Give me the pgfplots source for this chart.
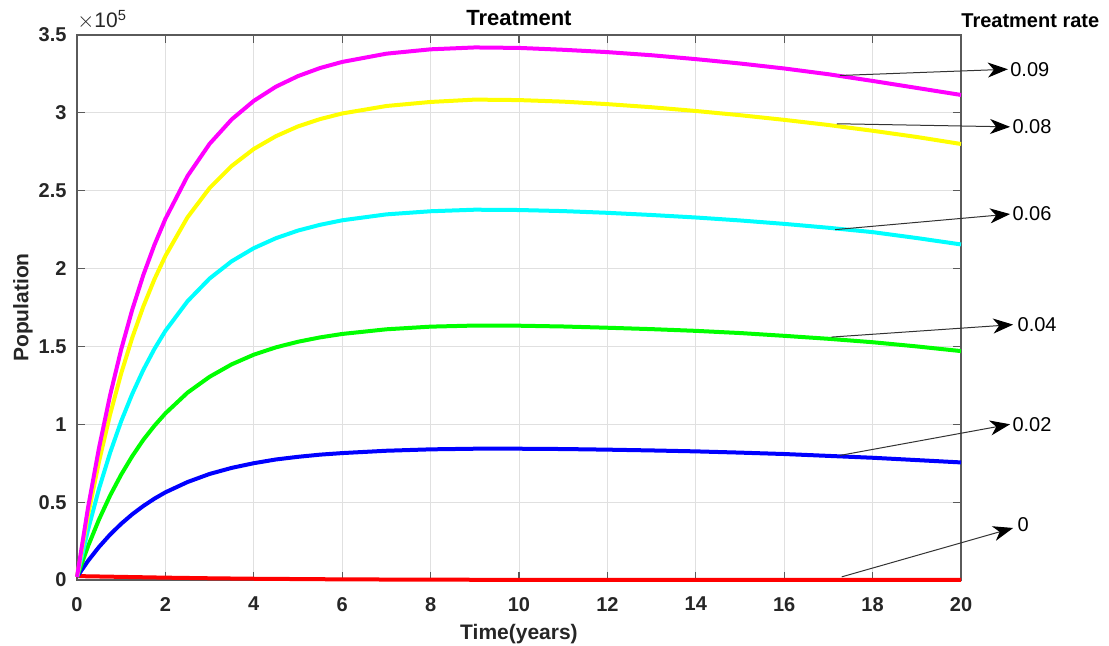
\documentclass[border=0pt]{standalone}
\usepackage{pgfplots}
\pgfplotsset{compat=1.18}
\usepackage{fontspec}
\setmainfont{Liberation Sans}
\usetikzlibrary{arrows.meta}
\definecolor{cmag}{RGB}{255,0,255}
\definecolor{cyel}{RGB}{255,255,0}
\definecolor{ccya}{RGB}{0,255,255}
\definecolor{cgre}{RGB}{0,255,0}
\definecolor{cblu}{RGB}{0,0,255}
\definecolor{cred}{RGB}{255,0,0}
\definecolor{axgray}{RGB}{90,90,90}
\begin{document}
\begin{tikzpicture}
\begin{axis}[
  at={(0pt,0pt)}, anchor=south west,
  scale only axis, width=442pt, height=272.5pt,
  xmin=0, xmax=20, ymin=0, ymax=3.5,
  xtick={0,2,...,20}, ytick={0,0.5,...,3.5},
  clip=false,
  axis line style={draw=axgray, line width=0.6pt},
  tick style={draw=axgray, line width=0.6pt},
  major tick length=4pt,
  tick align=inside,
  grid=major,
  grid style={draw=black!12, line width=0.5pt},
  /pgf/number format/assume math mode=true,
  ticklabel style={font=\fontsize{10}{12}\selectfont\bfseries, text=black!85},
  xticklabel style={yshift=-5pt},
  yticklabel style={xshift=-1.7pt},
  xlabel={Time(years)},
  ylabel={Population},
  label style={font=\fontsize{10.5}{12}\selectfont\bfseries, text=black!85},
  xlabel style={at={(axis description cs:0.5,0)}, anchor=north, yshift=-18.5pt},
  ylabel style={at={(axis description cs:-0.042,0.5)}, anchor=south, rotate=0},
  every axis plot/.append style={line width=2pt, line join=round},
]
\addplot[cred] coordinates {
(0,0.025) (1,0.02) (2,0.015) (3,0.011) (4,0.008) (5,0.006) (6,0.004) (8,0.002) (10,0.001) (12,0.0005) (16,0.0002) (20,0.0001)};
\addplot[cblu] coordinates {
(0,0.02) (0.25,0.123) (0.5,0.213) (0.75,0.292) (1,0.361) (1.25,0.422) (1.5,0.475) (1.75,0.522) (2,0.563) (2.5,0.629) (3,0.681) (3.5,0.72) (4,0.75) (4.5,0.774) (5,0.791) (5.5,0.805) (6,0.815) (7,0.83) (8,0.839) (9,0.843) (10,0.843) (11,0.841) (12,0.837) (13,0.832) (14,0.826) (15,0.818) (16,0.809) (17,0.797) (18,0.785) (19,0.77) (20,0.755)};
\addplot[cgre] coordinates {
(0,0.02) (0.25,0.217) (0.5,0.39) (0.75,0.543) (1,0.677) (1.25,0.795) (1.5,0.9) (1.75,0.99) (2,1.07) (2.5,1.203) (3,1.305) (3.5,1.385) (4,1.447) (4.5,1.494) (5,1.53) (5.5,1.558) (6,1.58) (7,1.61) (8,1.627) (9,1.634) (10,1.633) (11,1.628) (12,1.62) (13,1.611) (14,1.6) (15,1.586) (16,1.568) (17,1.549) (18,1.527) (19,1.5) (20,1.47)};
\addplot[ccya] coordinates {
(0,0.02) (0.25,0.323) (0.5,0.588) (0.75,0.818) (1,1.02) (1.25,1.195) (1.5,1.349) (1.75,1.483) (2,1.6) (2.5,1.79) (3,1.936) (3.5,2.047) (4,2.131) (4.5,2.195) (5,2.244) (5.5,2.281) (6,2.31) (7,2.348) (8,2.368) (9,2.378) (10,2.376) (11,2.369) (12,2.358) (13,2.344) (14,2.328) (15,2.309) (16,2.287) (17,2.262) (18,2.234) (19,2.196) (20,2.155)};
\addplot[cyel] coordinates {
(0,0.02) (0.25,0.417) (0.5,0.763) (0.75,1.064) (1,1.327) (1.25,1.556) (1.5,1.756) (1.75,1.93) (2,2.081) (2.5,2.329) (3,2.517) (3.5,2.659) (4,2.768) (4.5,2.85) (5,2.913) (5.5,2.96) (6,2.996) (7,3.044) (8,3.07) (9,3.085) (10,3.082) (11,3.072) (12,3.056) (13,3.036) (14,3.012) (15,2.985) (16,2.955) (17,2.922) (18,2.885) (19,2.845) (20,2.8)};
\addplot[cmag] coordinates {
(0,0.02) (0.25,0.465) (0.5,0.851) (0.75,1.188) (1,1.481) (1.25,1.736) (1.5,1.958) (1.75,2.151) (2,2.319) (2.5,2.594) (3,2.801) (3.5,2.958) (4,3.077) (4.5,3.168) (5,3.236) (5.5,3.288) (6,3.327) (7,3.38) (8,3.408) (9,3.42) (10,3.417) (11,3.405) (12,3.39) (13,3.37) (14,3.345) (15,3.317) (16,3.285) (17,3.248) (18,3.205) (19,3.16) (20,3.115)};
% annotations
\begin{scope}[every node/.style={font=\fontsize{10}{12}\selectfont, text=black, inner sep=1pt, anchor=west}]
\draw[draw=black!80, line width=0.5pt, -{Stealth[length=10pt,width=7.5pt,inset=3pt,black]}] (axis cs:17.26,3.24) -- (axis cs:21.06,3.28) node {0.09};
\draw[draw=black!80, line width=0.5pt, -{Stealth[length=10pt,width=7.5pt,inset=3pt,black]}] (axis cs:17.19,2.93) -- (axis cs:21.11,2.91) node {0.08};
\draw[draw=black!80, line width=0.5pt, -{Stealth[length=10pt,width=7.5pt,inset=3pt,black]}] (axis cs:17.15,2.25) -- (axis cs:21.11,2.35) node {0.06};
\draw[draw=black!80, line width=0.5pt, -{Stealth[length=10pt,width=7.5pt,inset=3pt,black]}] (axis cs:17.07,1.56) -- (axis cs:21.18,1.64) node[xshift=1pt] {0.04};
\draw[draw=black!80, line width=0.5pt, -{Stealth[length=10pt,width=7.5pt,inset=3pt,black]}] (axis cs:17.26,0.80) -- (axis cs:21.11,1.00) node {0.02};
\draw[draw=black!80, line width=0.5pt, -{Stealth[length=10pt,width=7.5pt,inset=3pt,black]}] (axis cs:17.30,0.02) -- (axis cs:21.18,0.334) node[xshift=1pt, yshift=1.5pt] {0};
\end{scope}
\node[font=\fontsize{11}{13}\selectfont\bfseries, anchor=base, inner sep=0pt] at ([yshift=4.5pt]rel axis cs:0.5,1) {Treatment};
\node[font=\fontsize{10}{12}\selectfont\bfseries, anchor=base west, inner sep=0pt] at ([yshift=3.5pt]rel axis cs:1,1) {Treatment rate};
\node[font=\fontsize{10.5}{12}\selectfont, text=black!85, anchor=base west, inner sep=0pt] at ([yshift=3.5pt]rel axis cs:0,1) {$\times$10\textsuperscript{5}};
\end{axis}
\pgfresetboundingbox
\useasboundingbox (-38.5pt,-33pt) rectangle (516pt,290pt);
\end{tikzpicture}
\end{document}
